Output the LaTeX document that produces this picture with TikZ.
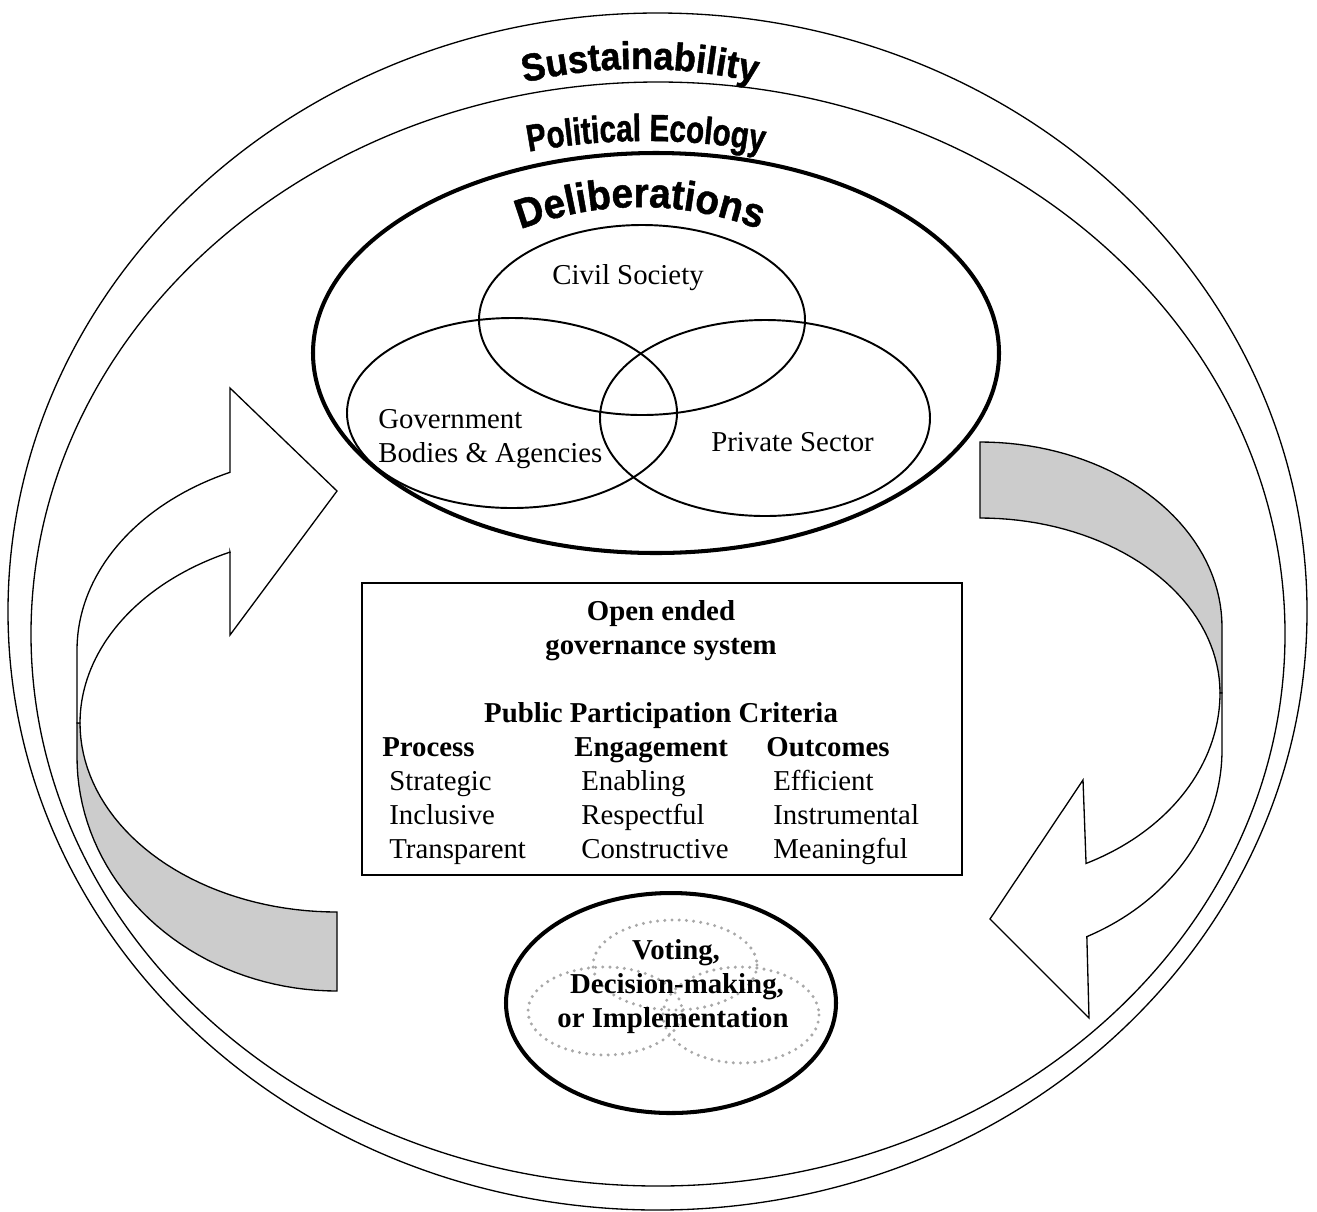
\documentclass[tikz,border=0pt]{standalone}
\usepackage{fontspec}
\setmainfont{Liberation Serif}
\newfontfamily\archfont{Liberation Sans}[FakeStretch=0.93, FakeBold=1.2]
\newfontfamily\archnarrow{Liberation Sans}[FakeStretch=0.78, FakeBold=1.2]
\usetikzlibrary{decorations.text}
\definecolor{ribbongray}{RGB}{204,204,204}
\definecolor{dotgray}{RGB}{168,168,168}

\begin{document}
\begin{tikzpicture}[x=0.02cm, y=-0.02cm,
  thinring/.style={line width=0.75pt},
  thickring/.style={line width=2.3pt},
  vennring/.style={line width=1.1pt},
  dotring/.style={draw=dotgray, line width=1.9pt, line cap=round, dash pattern=on 0pt off 4.1pt},
  ribbon/.style={line width=0.75pt, line join=miter},
  lbl/.style={inner sep=0pt, font=\fontsize{16.4pt}{19.3pt}\selectfont},
  blbl/.style={inner sep=0pt, font=\fontsize{16.4pt}{19.3pt}\selectfont\bfseries},
]
% page
\fill[white] (0,0) rectangle (1317,1211);
\useasboundingbox (0,0) rectangle (1317,1211);

% nested rings
\draw[thinring] (657.5,611.5) ellipse [x radius=649.5, y radius=598.5];
\draw[thinring] (658,634) ellipse [x radius=627, y radius=552];
\draw[thickring] (656,353) ellipse [x radius=343, y radius=200];

% arched ring titles
\path[decorate, decoration={text along path, text align=center,
  text={|\archfont\bfseries\fontsize{22pt}{26pt}\selectfont|Sustainability}}]
  (480,95) .. controls (586.7,60.3) and (693.3,60.3) .. (800,95);
\path[decorate, decoration={text along path, text align=center,
  text={|\archnarrow\bfseries\fontsize{21.5pt}{25pt}\selectfont|Political Ecology}}]
  (486,161) .. controls (592.7,134.3) and (699.3,134.3) .. (806,161);
\path[decorate, decoration={text along path, text align=center,
  text={|\archfont\bfseries\fontsize{23.6pt}{28pt}\selectfont|Deliberations}}]
  (480,247) .. controls (586.7,193.7) and (693.3,193.7) .. (800,247);

% three-sector Venn diagram
\draw[vennring] (642,320) ellipse [x radius=163, y radius=95];
\draw[vennring] (512,413) ellipse [x radius=165, y radius=95];
\draw[vennring] (765,418) ellipse [x radius=165, y radius=98];
\node[lbl, anchor=base] (civil) at (628,284) {Civil Society};
\node[lbl, anchor=base west] (gov1) at (378,428) {Government};
\node[lbl, anchor=base west] (gov2) at (378,462) {Bodies \& Agencies};
\node[lbl, anchor=base west] (priv) at (711,451) {Private Sector};

% left curved arrow: back face (grey) and front face with head
\filldraw[ribbon, fill=ribbongray] (80,723)
  -- plot[domain=180:90, samples=40] ({337+257*cos(\x)}, {723+189*sin(\x)})
  -- (337,991)
  -- plot[domain=90:180, samples=40] ({337+260*cos(\x)}, {757+234*sin(\x)})
  -- (77,723) -- cycle;
\filldraw[ribbon, fill=white] (230,388) -- (337,491) -- (230,635) -- (230,552)
  -- plot[domain=245.4:180, samples=40] ({337+257*cos(\x)}, {723+188*sin(\x)})
  -- (77,723) -- (77,650)
  -- plot[domain=180:245.7, samples=40] ({337+260*cos(\x)}, {650+195*sin(\x)})
  -- cycle;

% right curved arrow: back face (grey) and front face with head
\filldraw[ribbon, fill=ribbongray] (980,442)
  -- plot[domain=270:360, samples=40] ({980+242*cos(\x)}, {627+185*sin(\x)})
  -- (1222,693) -- (1220,693)
  -- plot[domain=0:-90, samples=40] ({980+240*cos(\x)}, {693+175*sin(\x)})
  -- cycle;
\filldraw[ribbon, fill=white] (1222,693) -- (1222,750)
  -- plot[domain=0:63.8, samples=40] ({980+242*cos(\x)}, {750+208*sin(\x)})
  -- (1089,1018) -- (990,919) -- (1083,780) -- (1086,862)
  -- plot[domain=63.8:0, samples=40] ({980+240*cos(\x)}, {693+190*sin(\x)})
  -- cycle;

% criteria box
\node[draw, line width=0.75pt, minimum width=12cm, minimum height=5.84cm, inner sep=0pt]
  (box) at (662,729) {};
\node[blbl, anchor=base] (open) at (661,620) {Open ended};
\node[blbl, anchor=base] (gov) at (661,654) {governance system};
\node[blbl, anchor=base] (ppc) at (661,722) {Public Participation Criteria};
\node[blbl, anchor=base west] (proc) at (382,756) {Process};
\node[blbl, anchor=base west] (eng) at (574,756) {Engagement};
\node[blbl, anchor=base west] (outc) at (766,756) {Outcomes};
\node[lbl, anchor=base west] (p1) at (389,790) {Strategic};
\node[lbl, anchor=base west] (p2) at (389,824) {Inclusive};
\node[lbl, anchor=base west] (p3) at (389,858) {Transparent};
\node[lbl, anchor=base west] (e1) at (581,790) {Enabling};
\node[lbl, anchor=base west] (e2) at (581,824) {Respectful};
\node[lbl, anchor=base west] (e3) at (581,858) {Constructive};
\node[lbl, anchor=base west] (o1) at (773,790) {Efficient};
\node[lbl, anchor=base west] (o2) at (773,824) {Instrumental};
\node[lbl, anchor=base west] (o3) at (773,858) {Meaningful};

% decision ellipse with faint Venn
\draw[dotring] (675,965) ellipse [x radius=82, y radius=45];
\draw[dotring] (605,1011) ellipse [x radius=77, y radius=44];
\draw[dotring] (741,1015) ellipse [x radius=78, y radius=48];
\draw[thickring] (671,1003) ellipse [x radius=165, y radius=110];
\node[blbl, anchor=base] (vote) at (676,959) {Voting,};
\node[blbl, anchor=base] (dec) at (677,993) {Decision-making,};
\node[blbl, anchor=base] (impl) at (673,1027) {or Implementation};
\end{tikzpicture}
\end{document}
